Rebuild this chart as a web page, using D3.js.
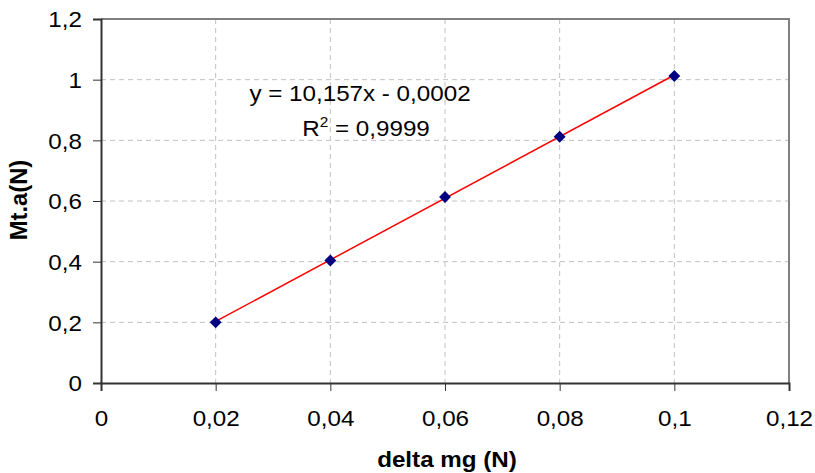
<!DOCTYPE html>
<html>
<head>
<meta charset="utf-8">
<script src="https://cdn.jsdelivr.net/npm/d3@7"></script>
<style>
  body { margin: 0; background: #fff; }
  text { font-family: "Liberation Sans", Arial, sans-serif; }
</style>
</head>
<body>
<div class="chart"></div>
<script>
// data
var xValues = [0.02, 0.04, 0.06, 0.08, 0.1];
var yValues = [0.2, 0.404, 0.613, 0.812, 1.012];
var xTicks = [0, 0.02, 0.04, 0.06, 0.08, 0.1, 0.12];
var yTicks = [0, 0.2, 0.4, 0.6, 0.8, 1, 1.2];
var slope = 10.157;
var intercept = -0.0002;

var width = 815;
var height = 473;
var plot = { left: 101, top: 19, right: 789, bottom: 383 };
var fontSize = "22px";
var stretch = "scale(1.1,1)"; // the source text is a bit wide

var svg = d3.select(".chart").append("svg")
  .attr("width", width)
  .attr("height", height);

var x = d3.scaleLinear().domain([0, 0.12]).range([plot.left, plot.right]);
var y = d3.scaleLinear().domain([0, 1.2]).range([plot.bottom, plot.top]);

var fmt = function (d) { return String(+d.toFixed(2)).replace(".", ","); };

// grid
svg.append("g").selectAll("line")
  .data(xTicks.slice(1, -1))
  .enter().append("line")
  .attr("x1", d => x(d)).attr("x2", d => x(d))
  .attr("y1", plot.top).attr("y2", plot.bottom)
  .attr("stroke", "#c0c0c0").attr("stroke-dasharray", "5,4");

svg.append("g").selectAll("line")
  .data(yTicks.slice(1, -1))
  .enter().append("line")
  .attr("y1", d => y(d)).attr("y2", d => y(d))
  .attr("x1", plot.left).attr("x2", plot.right)
  .attr("stroke", "#c0c0c0").attr("stroke-dasharray", "5,4");

// top/right frame
svg.append("path")
  .attr("d", `M${plot.left},${plot.top}H${plot.right}V${plot.bottom}`)
  .attr("fill", "none").attr("stroke", "#808080").attr("stroke-width", 2);

// axes
var xAxis = svg.append("g")
  .attr("transform", `translate(0,${plot.bottom})`)
  .call(d3.axisBottom(x).tickValues(xTicks).tickFormat(fmt).tickSizeOuter(0).tickSize(8));
var yAxis = svg.append("g")
  .attr("transform", `translate(${plot.left},0)`)
  .call(d3.axisLeft(y).tickValues(yTicks).tickFormat(fmt).tickSizeOuter(0).tickSize(8));

[xAxis, yAxis].forEach(function (a) {
  a.select(".domain").attr("stroke", "#333").attr("stroke-width", 2);
  a.selectAll(".tick line").attr("stroke", "#333");
  a.selectAll(".tick text").attr("fill", "#000").style("font-size", fontSize)
    .attr("transform", stretch);
});
xAxis.selectAll(".tick text").attr("y", 43).attr("dy", null);
yAxis.selectAll(".tick text").attr("x", -17.3).attr("dy", "0.36em");

// trend line
var x0 = d3.min(xValues), x1 = d3.max(xValues);
svg.append("line")
  .attr("x1", x(x0)).attr("y1", y(slope * x0 + intercept))
  .attr("x2", x(x1)).attr("y2", y(slope * x1 + intercept))
  .attr("stroke", "#ff0000").attr("stroke-width", 1.5);

// markers
var diamond = d3.symbol().type(d3.symbolDiamond2).size(90);
svg.append("g").selectAll("path")
  .data(xValues)
  .enter().append("path")
  .attr("transform", (d, i) => `translate(${x(d)},${y(yValues[i])})`)
  .attr("d", diamond)
  .attr("fill", "#000080");

// equation
svg.append("text")
  .attr("transform", `translate(360,101) ${stretch}`)
  .attr("text-anchor", "middle")
  .style("font-size", fontSize)
  .text("y = 10,157x - 0,0002");
var r2 = svg.append("text")
  .attr("transform", `translate(366,136) ${stretch}`)
  .attr("text-anchor", "middle")
  .style("font-size", fontSize);
r2.append("tspan").text("R");
r2.append("tspan").attr("dy", -9).style("font-size", "14px").text("2");
r2.append("tspan").attr("dy", 9).text(" = 0,9999");

// axis titles
svg.append("text")
  .attr("transform", `translate(447,467) ${stretch}`)
  .attr("text-anchor", "middle")
  .style("font-size", fontSize).style("font-weight", "bold")
  .text("delta mg (N)");
svg.append("text")
  .attr("transform", `translate(27,200) rotate(-90) scale(1.08,1.05)`)
  .attr("text-anchor", "middle")
  .style("font-size", fontSize).style("font-weight", "bold")
  .text("Mt.a(N)");
</script>
</body>
</html>
